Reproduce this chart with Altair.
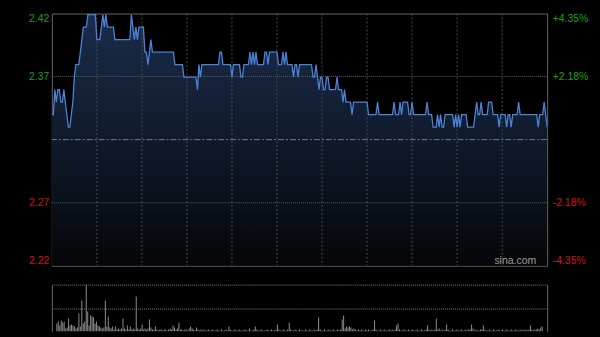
import altair as alt
import pandas as pd

# ---------------- data ----------------
prev_close = 2.32
pct_ticks = [-4.35, -2.18, 2.18, 4.35]          # axis tick positions in % of previous close
grid_minutes = [30, 60, 90, 120, 150, 180, 210, 240, 270, 300]

# minute-by-minute price, stored as runs (price level, number of minutes)
price_levels = [
    2.34, 2.36, 2.35, 2.36, 2.35, 2.36, 2.35, 2.34, 2.33, 2.34,
    2.35, 2.37, 2.38, 2.39, 2.40, 2.41, 2.42, 2.40, 2.41, 2.42,
    2.41, 2.42, 2.41, 2.40, 2.42, 2.41, 2.40, 2.41, 2.40, 2.41,
    2.39, 2.38, 2.39, 2.40, 2.39, 2.38, 2.37, 2.36, 2.38, 2.37,
    2.38, 2.39, 2.38, 2.37, 2.38, 2.37, 2.38, 2.39, 2.38, 2.39,
    2.38, 2.39, 2.38, 2.39, 2.38, 2.39, 2.38, 2.39, 2.38, 2.39,
    2.38, 2.37, 2.38, 2.37, 2.38, 2.37, 2.38, 2.37, 2.36, 2.37,
    2.36, 2.37, 2.36, 2.37, 2.36, 2.35, 2.36, 2.35, 2.34, 2.35,
    2.34, 2.35, 2.34, 2.35, 2.34, 2.35, 2.34, 2.35, 2.34, 2.35,
    2.34, 2.35, 2.34, 2.33, 2.34, 2.33, 2.34, 2.33, 2.34, 2.33,
    2.34, 2.33, 2.34, 2.33, 2.34, 2.33, 2.34, 2.35, 2.34, 2.35,
    2.34, 2.35, 2.34, 2.33, 2.34, 2.33, 2.34, 2.33, 2.34, 2.35,
    2.34, 2.33, 2.34, 2.35, 2.34, 2.33,
]
run_lengths = [
    2, 1, 1, 2, 2, 1, 1, 1, 2, 1,
    1, 1, 3, 1, 1, 3, 6, 3, 1, 1,
    1, 1, 5, 11, 1, 1, 1, 1, 1, 4,
    2, 1, 1, 1, 15, 6, 9, 1, 1, 1,
    12, 2, 6, 1, 5, 2, 4, 1, 1, 1,
    1, 1, 5, 2, 1, 6, 3, 1, 1, 1,
    4, 1, 2, 1, 9, 2, 1, 1, 1, 2,
    2, 2, 5, 1, 3, 1, 1, 4, 1, 10,
    6, 1, 10, 1, 3, 1, 1, 4, 2, 1,
    9, 1, 3, 3, 1, 1, 1, 2, 6, 1,
    1, 1, 1, 1, 4, 5, 1, 1, 2, 1,
    4, 3, 4, 1, 4, 1, 2, 1, 4, 1,
    12, 1, 3, 1, 1, 1,
]

# volume per minute (thousand shares)
volume = [
    8, 10, 6, 11, 9, 10, 3, 4, 13, 6, 7, 6, 5, 3, 4, 18, 5, 31, 8, 10, 47, 20, 6, 16, 15, 14, 8, 10, 6, 5,
    4, 3, 4, 31, 5, 15, 4, 3, 5, 2, 5, 2, 3, 2, 3, 13, 3, 2, 6, 2, 5, 2, 3, 2, 35, 3, 2, 3, 7, 2,
    3, 2, 3, 12, 4, 2, 2, 5, 2, 1, 2, 2, 1, 2, 2, 1, 2, 3, 2, 6, 4, 2, 3, 9, 2, 2, 1, 2, 2, 1,
    3, 5, 3, 2, 1, 4, 2, 1, 2, 1, 2, 1, 1, 2, 1, 1, 2, 1, 1, 2, 1, 1, 2, 1, 1, 2, 1, 5, 2, 1,
    1, 2, 1, 1, 2, 1, 1, 1, 2, 1, 1, 3, 1, 1, 2, 5, 2, 1, 1, 2, 1, 1, 1, 2, 1, 1, 2, 1, 1, 2,
    7, 2, 1, 1, 2, 1, 1, 2, 9, 2, 1, 1, 2, 1, 1, 2, 1, 1, 1, 2, 1, 1, 2, 1, 1, 2, 1, 2, 14, 2,
    1, 1, 2, 1, 1, 2, 1, 1, 2, 1, 1, 2, 1, 2, 12, 16, 3, 5, 4, 5, 4, 2, 3, 2, 1, 2, 1, 2, 1, 1,
    2, 1, 2, 1, 1, 2, 11, 2, 1, 1, 2, 1, 1, 2, 1, 1, 2, 1, 2, 1, 2, 6, 8, 2, 1, 1, 2, 1, 1, 2,
    1, 1, 2, 1, 1, 2, 1, 1, 2, 1, 1, 2, 6, 2, 1, 2, 1, 2, 13, 2, 3, 1, 2, 1, 2, 7, 2, 1, 1, 2,
    1, 1, 2, 1, 1, 2, 1, 1, 2, 1, 2, 2, 7, 3, 1, 2, 1, 1, 2, 2, 6, 2, 1, 1, 2, 1, 1, 2, 1, 1,
    2, 1, 1, 2, 1, 1, 2, 1, 1, 2, 1, 1, 2, 1, 1, 2, 1, 2, 1, 2, 1, 2, 6, 2, 1, 2, 2, 3, 2, 4,
    5,
]

# ---------------- tables ----------------
prices = []
for lvl, n in zip(price_levels, run_lengths):
    prices.extend([lvl] * n)
minutes = list(range(len(prices)))
df = pd.DataFrame({"minute": minutes, "price": prices})
vol_df = pd.DataFrame({"minute": list(range(len(volume))), "vol": volume})

price_ticks = [prev_close * (1 + p / 100) for p in pct_ticks]
ymin, ymax = price_ticks[0], price_ticks[-1]
df["base"] = ymin
hgrid_df = pd.DataFrame({"p": [price_ticks[1], price_ticks[2]]})
prev_df = pd.DataFrame({"p": [prev_close]})
vgrid_df = pd.DataFrame({"m": grid_minutes})
mark_df = pd.DataFrame({"label": ["sina.com"]})

GREEN = "#14a014"
RED = "#d01414"
FONT = "Liberation Sans"

xscale = alt.Scale(domain=[0, 330], nice=False, zero=False)
yscale = alt.Scale(domain=[ymin, ymax], nice=False, zero=False)
color_expr = {"expr": f"datum.value > {prev_close} ? '{GREEN}' : '{RED}'"}
pct = f"((datum.value / {prev_close} - 1) * 100)"

left_axis = alt.Axis(
    orient="left", values=price_ticks, labelExpr="format(datum.value, '.2f')",
    labelColor=color_expr, labelFlush=True, labelFontSize=10.5, labelFont=FONT,
    labelPadding=3, ticks=False, domain=False, grid=False, title=None,
    minExtent=28, maxExtent=28,
)
right_axis = alt.Axis(
    orient="right", values=price_ticks,
    labelExpr=f"({pct} >= 0 ? '+' : '-') + format(abs({pct}), '.2f') + '%'",
    labelColor=color_expr, labelFlush=True, labelFontSize=10.5, labelFont=FONT,
    labelPadding=5, ticks=False, domain=False, grid=False, title=None,
    minExtent=47, maxExtent=47,
)

gradient = alt.Gradient(
    gradient="linear", x1=0, x2=0, y1=0, y2=1,
    stops=[
        alt.GradientStop(color="#1b2c4a", offset=0),
        alt.GradientStop(color="#101a2c", offset=0.5),
        alt.GradientStop(color="#050608", offset=1),
    ],
)

area = alt.Chart(df).mark_area(color=gradient, clip=True).encode(
    x=alt.X("minute:Q", scale=xscale, axis=None),
    y=alt.Y("price:Q", scale=yscale, axis=left_axis),
    y2="base:Q",
)
vgrid = alt.Chart(vgrid_df).mark_rule(color="#4a4a4a", strokeDash=[2, 2], strokeWidth=1).encode(
    x=alt.X("m:Q", scale=xscale, axis=None),
)
hgrid = alt.Chart(hgrid_df).mark_rule(color="#5a5a5a", strokeDash=[1, 1], strokeWidth=1).encode(
    y=alt.Y("p:Q", scale=yscale, axis=None),
)
prev_rule = alt.Chart(prev_df).mark_rule(color="#707880", strokeDash=[6, 2, 2, 2], strokeWidth=1).encode(
    y=alt.Y("p:Q", scale=yscale, axis=None),
)
line = alt.Chart(df).mark_line(color="#4a82d6", strokeWidth=1.3, clip=True).encode(
    x=alt.X("minute:Q", scale=xscale, axis=None),
    y=alt.Y("price:Q", scale=yscale, axis=right_axis),
)
watermark = alt.Chart(mark_df).mark_text(
    color="#9a9a9a", fontSize=10.5, font=FONT, align="right", baseline="alphabetic"
).encode(text="label:N", x=alt.value(486), y=alt.value(251))

price_panel = alt.layer(area, vgrid, hgrid, prev_rule, line, watermark).resolve_axis(
    y="independent"
).properties(width=497, height=253, view=alt.ViewBackground(stroke="#666666", strokeWidth=1))

# ---------------- volume panel ----------------
vmax = max(volume)
vxscale = alt.Scale(domain=[0, 330], nice=False, zero=False)
vyscale = alt.Scale(domain=[0, vmax], nice=False)

bars = alt.Chart(vol_df).mark_bar(width=1, color="#8c8c8c", clip=True).encode(
    x=alt.X("minute:Q", scale=vxscale, axis=alt.Axis(
        labels=False, ticks=False, grid=False, domain=True, domainColor="#666666",
        title=None, minExtent=0, maxExtent=0)),
    y=alt.Y("vol:Q", scale=vyscale, axis=alt.Axis(
        orient="left", values=[vmax / 2, vmax], labels=False, ticks=False, domain=True,
        domainColor="#666666", grid=True, gridColor="#7a7a7a", gridDash=[1, 1],
        title=None, minExtent=28, maxExtent=28)),
)
bars_right = alt.Chart(vol_df).mark_bar(width=1, opacity=0, clip=True).encode(
    x=alt.X("minute:Q", scale=vxscale, axis=None),
    y=alt.Y("vol:Q", scale=vyscale, axis=alt.Axis(
        orient="right", labels=False, ticks=False, domain=True, domainColor="#666666",
        grid=False, title=None, minExtent=47, maxExtent=47)),
)
vol_panel = alt.layer(bars, bars_right).resolve_axis(y="independent").properties(
    width=497, height=47, view=alt.ViewBackground(stroke="transparent")
)

chart = alt.vconcat(price_panel, vol_panel, spacing=17).properties(
    padding={"left": 23, "top": 12, "right": 5, "bottom": 5},
    background="#000000",
).configure_view(strokeWidth=1)

chart.save("out.html", embed_options={"renderer": "svg", "actions": False})
